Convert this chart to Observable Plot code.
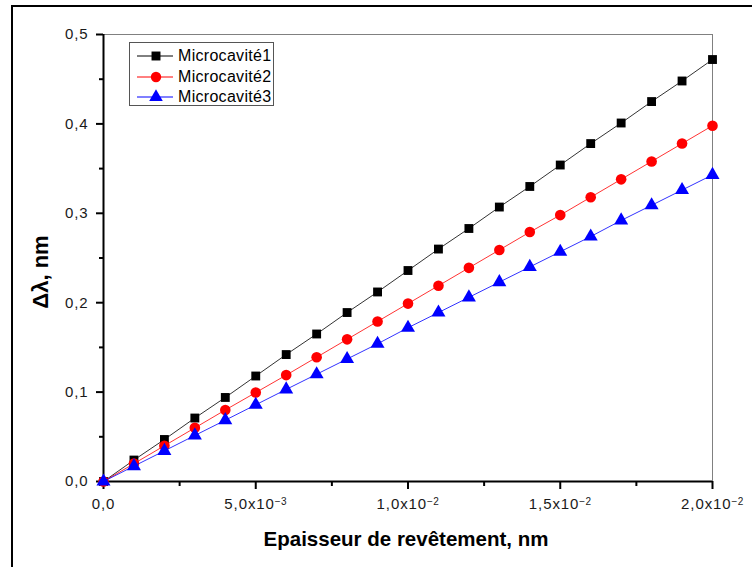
<!DOCTYPE html>
<html><head><meta charset="utf-8">
<script src="https://cdn.jsdelivr.net/npm/d3@7"></script>
<script src="https://cdn.jsdelivr.net/npm/@observablehq/plot@0.6"></script>
<style>
body{margin:0;background:#fff;}
#wrap{position:relative;width:752px;height:567px;overflow:hidden;font-family:"Liberation Sans",Arial,sans-serif;background:#fff;}
#border{position:absolute;left:11px;top:5px;width:800px;height:700px;border-left:2px solid #000;border-top:2px solid #000;pointer-events:none;}
#chart{position:absolute;left:0;top:0;}
#chart svg text.tick{font-size:15px !important;letter-spacing:0.9px;fill:#1a1a1a;}
#chart svg text.tick tspan.sup{font-size:10px !important;letter-spacing:0.5px;}
#legend{position:absolute;left:129px;top:42px;width:143px;height:62px;border:1px solid #555;background:#fff;}
.row{position:absolute;left:0;height:20px;display:flex;align-items:center;}
.row span{font-size:16px;color:#000;margin-left:4px;letter-spacing:0.3px;}
#xlabel{position:absolute;left:0;width:812px;top:527px;text-align:center;font-size:20.5px;font-weight:bold;color:#000;}
#ylabel{position:absolute;left:41px;top:272px;transform:translate(-50%,-50%) rotate(-90deg);font-size:22px;font-weight:bold;white-space:nowrap;color:#000;}
</style></head>
<body>
<div id="wrap">
  <div id="chart"></div>
  <div id="border"></div>
  <div id="legend"></div>
  <div id="xlabel">Epaisseur de revêtement, nm</div>
  <div id="ylabel">Δλ, nm</div>
</div>
<script>
const thickness = [0,0.001,0.002,0.003,0.004,0.005,0.006,0.007,0.008,0.009,0.010,0.011,0.012,0.013,0.014,0.015,0.016,0.017,0.018,0.019,0.020];
const micro1 = [0,0.024,0.047,0.071,0.094,0.118,0.142,0.165,0.189,0.212,0.236,0.260,0.283,0.307,0.330,0.354,0.378,0.401,0.425,0.448,0.472];
const micro2 = [0,0.020,0.040,0.060,0.080,0.0995,0.119,0.139,0.159,0.179,0.199,0.219,0.239,0.259,0.279,0.298,0.318,0.338,0.358,0.378,0.398];
const micro3 = [0,0.0172,0.0343,0.0515,0.0686,0.0858,0.103,0.120,0.137,0.154,0.172,0.189,0.206,0.223,0.240,0.257,0.274,0.292,0.309,0.326,0.343];
const seriesNames = ["Microcavité1","Microcavité2","Microcavité3"];
const seriesColors = ["#000000","#ff0000","#0000ff"];
const seriesSymbols = ["square","circle","triangle"];
const xTicks = [0,0.005,0.010,0.015,0.020];
const xTickLabels = ["0,0","5,0x10^-3","1,0x10^-2","1,5x10^-2","2,0x10^-2"];
const xMinorTicks = [0.0025,0.0075,0.0125,0.0175];
const yTicks = [0,0.1,0.2,0.3,0.4,0.5];
const yTickLabels = ["0,0","0,1","0,2","0,3","0,4","0,5"];
const yMinorTicks = [0.05,0.15,0.25,0.35,0.45];

const allValues = [micro1, micro2, micro3];
const seriesMarks = [];
allValues.forEach((vals, s) => {
  const rows = thickness.map((x, i) => ({x, y: vals[i]}));
  seriesMarks.push(Plot.line(rows, {x: "x", y: "y", stroke: seriesColors[s], strokeWidth: 1, strokeOpacity: 0.8}));
  seriesMarks.push(Plot.dot(rows, {x: "x", y: "y", symbol: () => seriesSymbols[s], fill: seriesColors[s], stroke: "none",
    r: seriesSymbols[s] === "triangle" ? 5.2 : (seriesSymbols[s] === "square" ? 5 : 5.3)}));
});

const plot = Plot.plot({
  width: 752, height: 567,
  marginLeft: 103, marginRight: 40, marginTop: 34, marginBottom: 86,
  style: {fontFamily: "'Liberation Sans', Arial, sans-serif", fontSize: "15px", background: "transparent"},
  x: {domain: [0, 0.02]},
  y: {domain: [0, 0.5]},
  symbol: {type: "identity"},
  marks: [
    Plot.frame({stroke: "#808080", strokeWidth: 1}),
    Plot.axisX(xMinorTicks, {tickSize: 5, tickFormat: () => "", stroke: "#000", strokeWidth: 2, label: null}),
    Plot.axisX(xTicks, {tickSize: 8, tickPadding: 9, stroke: "#000", strokeWidth: 2, fill: "#1a1a1a",
      tickFormat: d => xTickLabels[xTicks.indexOf(d)], label: null}),
    Plot.axisY(yMinorTicks, {tickSize: 4, tickFormat: () => "", stroke: "#000", strokeWidth: 2, label: null}),
    Plot.axisY(yTicks, {tickSize: 7, tickPadding: 8, stroke: "#000", strokeWidth: 2, fill: "#1a1a1a",
      tickFormat: d => yTickLabels[yTicks.indexOf(d)], label: null}),
    Plot.ruleX([0], {stroke: "#000", strokeWidth: 2}),
    Plot.ruleY([0], {stroke: "#000", strokeWidth: 2}),
    ...seriesMarks
  ]
});
document.getElementById("chart").appendChild(plot);

// tick label font and superscript exponents
d3.select(plot).selectAll("text").each(function() {
  const t = this.textContent;
  if (!t) return;
  this.classList.add("tick");
  if (t.includes("^")) {
    const [base, exp] = t.split("^");
    const sel = d3.select(this);
    sel.text(null);
    sel.append("tspan").text(base);
    sel.append("tspan").attr("class", "sup").attr("dy", "-0.45em").text(exp.replace("-", "\u2212"));
  }
});

// legend
const leg = document.getElementById("legend");
const symPaths = {
  square: d3.symbol(d3.symbolSquare, 80)(),
  circle: d3.symbol(d3.symbolCircle, 85)(),
  triangle: d3.symbol(d3.symbolTriangle, 80)()
};
seriesNames.forEach((name, s) => {
  const row = document.createElement("div");
  row.className = "row";
  row.style.top = (3 + s * 20.5) + "px";
  row.innerHTML = `<svg width="44" height="20"><line x1="7" x2="43" y1="10" y2="10" stroke="${seriesColors[s]}" stroke-width="1"/>` +
    `<path transform="translate(26,10)" d="${symPaths[seriesSymbols[s]]}" fill="${seriesColors[s]}"/></svg><span>${name}</span>`;
  leg.appendChild(row);
});
</script>
</body></html>
